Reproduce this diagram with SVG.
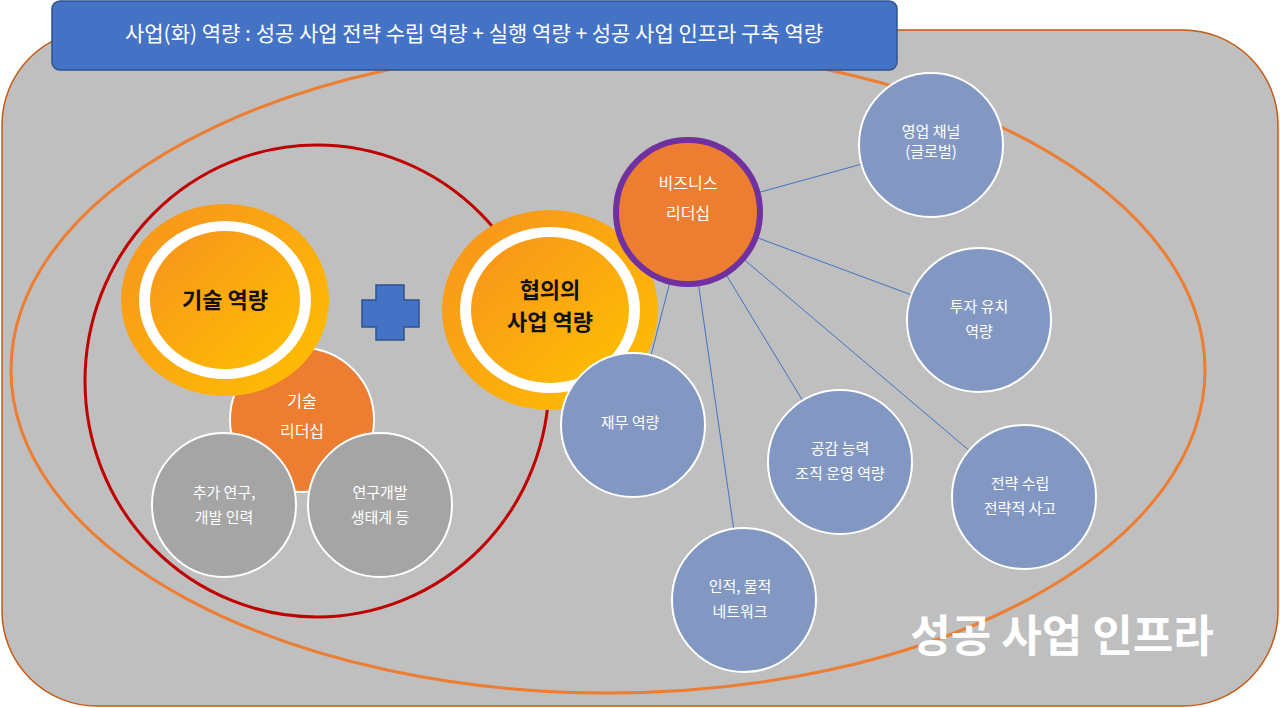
<svg xmlns="http://www.w3.org/2000/svg" width="1280" height="708" viewBox="0 0 1280 708">
<defs>
<style>
text{font-family:"Noto Sans CJK KR","Noto Sans",sans-serif;text-anchor:middle}
.w{fill:#fff;font-size:16px}
.blue{fill:#8298c3;stroke:#fff;stroke-width:2}
.gray{fill:#a5a5a5;stroke:#fff;stroke-width:2}
.org{fill:#ed7d31;stroke:#fff;stroke-width:2}
.big{font-size:22px;font-weight:bold;fill:#111}
</style>
<linearGradient id="g" x1="0" y1="0" x2="1" y2="1">
<stop offset="0" stop-color="#f7931e"/><stop offset="1" stop-color="#ffc000"/>
</linearGradient>
</defs>
<rect x="2" y="30" width="1276" height="676" rx="95" fill="#bfbfbf" stroke="#c55a11" stroke-width="1.5"/>
<ellipse cx="608" cy="370" rx="597" ry="323" fill="none" stroke="#ed7d31" stroke-width="3"/>
<ellipse cx="317" cy="381" rx="232" ry="236" fill="none" stroke="#c00000" stroke-width="3"/>
<g id="connectors" stroke="#4472c4" stroke-width="1">
<line x1="688" y1="212" x2="931" y2="145"/>
<line x1="688" y1="212" x2="979" y2="320"/>
<line x1="688" y1="212" x2="633" y2="425"/>
<line x1="688" y1="212" x2="840" y2="462"/>
<line x1="688" y1="212" x2="1024" y2="497"/>
<line x1="688" y1="212" x2="744" y2="600"/>
</g>
<g id="banner"><rect x="52" y="1" width="845" height="69" rx="8" fill="#4472c4" stroke="#2f528f" stroke-width="1.5"/>
<text x="474" y="41" class="w" style="font-size:21px">사업(화) 역량 : 성공 사업 전략 수립 역량 + 실행 역량 + 성공 사업  인프라 구축 역량</text></g>
<g id="tech-leader"><circle cx="302" cy="420" r="72" class="org"/><text x="302" y="407" class="w">기술</text><text x="302" y="437" class="w">리더십</text></g>
<g id="extra"><circle cx="224" cy="505" r="72" class="gray"/><text x="224" y="498" class="w" style="font-size:15px">추가 연구,</text><text x="224" y="523" class="w" style="font-size:15px">개발 인력</text></g>
<g id="rnd"><circle cx="380" cy="505" r="72" class="gray"/><text x="380" y="498" class="w" style="font-size:15px">연구개발</text><text x="380" y="523" class="w" style="font-size:15px">생태계 등</text></g>
<g id="tech"><ellipse cx="225" cy="300" rx="104" ry="96" fill="url(#g)"/><ellipse cx="225" cy="300" rx="86" ry="79" fill="#fff"/><ellipse cx="225" cy="300" rx="75" ry="69" fill="url(#g)"/><text x="225" y="308" class="big">기술 역량</text></g>
<g id="plus"><path d="M376 285h28v15h15v27h-15v13h-28v-13h-14v-27h14z" fill="#4472c4" stroke="#2f528f" stroke-width="1.5"/></g>
<g id="biz"><ellipse cx="550" cy="310" rx="108" ry="100" fill="url(#g)"/><ellipse cx="550" cy="310" rx="90" ry="83" fill="#fff"/><ellipse cx="550" cy="310" rx="79" ry="73" fill="url(#g)"/><text x="550" y="298" class="big">협의의</text><text x="550" y="330" class="big">사업 역량</text></g>
<g id="bizlead"><circle cx="688" cy="212" r="72" fill="#ed7d31" stroke="#7030a0" stroke-width="6"/><text x="688" y="189" class="w">비즈니스</text><text x="688" y="219" class="w">리더십</text></g>
<g id="sales"><circle cx="931" cy="145" r="72" class="blue"/><text x="931" y="137" class="w" style="font-size:15px">영업 채널</text><text x="931" y="157" class="w" style="font-size:15px">(글로벌)</text></g>
<g id="invest"><circle cx="979" cy="320" r="72" class="blue"/><text x="979" y="312" class="w" style="font-size:15px">투자 유치</text><text x="979" y="337" class="w" style="font-size:15px">역량</text></g>
<g id="finance"><circle cx="633" cy="425" r="72" class="blue"/><text x="630" y="428" class="w" style="font-size:15px">재무 역량</text></g>
<g id="empathy"><circle cx="840" cy="462" r="72" class="blue"/><text x="840" y="454" class="w" style="font-size:15px">공감 능력</text><text x="840" y="479" class="w" style="font-size:15px">조직 운영 역량</text></g>
<g id="strategy"><circle cx="1024" cy="497" r="72" class="blue"/><text x="1020" y="489" class="w" style="font-size:15px">전략 수립</text><text x="1020" y="514" class="w" style="font-size:15px">전략적 사고</text></g>
<g id="network"><circle cx="744" cy="600" r="72" class="blue"/><text x="740" y="592" class="w" style="font-size:15px">인적, 물적</text><text x="740" y="617" class="w" style="font-size:15px">네트워크</text></g>
<text x="1062" y="652" fill="#fff" style="font-size:44px;font-weight:bold">성공 사업 인프라</text>
</svg>
